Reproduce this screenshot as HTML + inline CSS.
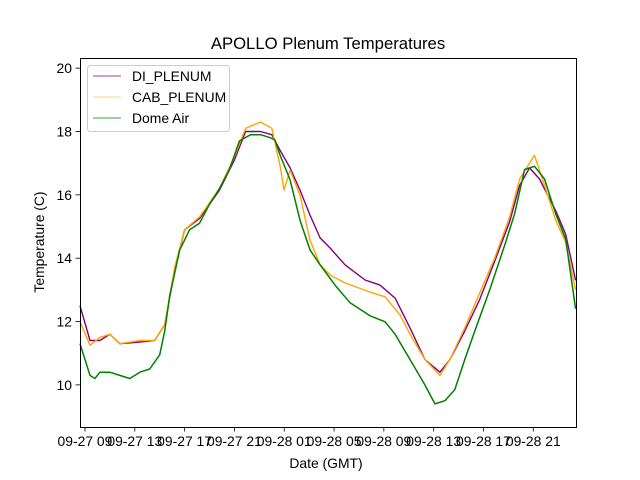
<!DOCTYPE html>
<html><head><meta charset="utf-8"><style>
body{margin:0;background:#fff;}
svg{display:block;font-family:"Liberation Sans","DejaVu Sans",sans-serif;}
</style></head><body>
<svg id="chart" width="640" height="480">
<rect x="0" y="0" width="640" height="480" fill="#fff"/>
<g id="plot"></g>
<rect x="80.5" y="58.5" width="496" height="369" fill="none" stroke="#000" stroke-width="1"/>
<text x="328" y="49" font-size="16.7" text-anchor="middle">APOLLO Plenum Temperatures</text>
<text x="326" y="468" font-size="13.9" text-anchor="middle">Date (GMT)</text>
<text transform="translate(44,242) rotate(-90)" font-size="13.9" text-anchor="middle">Temperature (C)</text>
<g id="xticks"></g><g id="yticks"></g>
<g>
<rect x="87.5" y="65.5" width="142" height="66" rx="3" fill="#fff" fill-opacity="0.8" stroke="#ccc"/>
<g><line x1="93" y1="76" x2="121" y2="76" stroke="#800080" stroke-width="0.7"/><text x="132" y="81" font-size="13.9">DI_PLENUM</text></g>
<g><line x1="93" y1="97" x2="121" y2="97" stroke="#ffa500" stroke-opacity="0.6" stroke-width="0.7"/><text x="132" y="102" font-size="13.9">CAB_PLENUM</text></g>
<g><line x1="93" y1="118" x2="121" y2="118" stroke="#008000" stroke-width="0.8"/><text x="132" y="123" font-size="13.9">Dome Air</text></g>
</g>
</svg>
<script>
// hours since 09-27 09:00
const xTickHours=[0,4,8,12,16,20,24,28,32,36];
const xTickLabels=["09-27 09","09-27 13","09-27 17","09-27 21","09-28 01","09-28 05","09-28 09","09-28 13","09-28 17","09-28 21"];
const yTicks=[10,12,14,16,18,20];
const domeHours=[-0.4,0.4,0.8,1.2,2.0,2.8,3.6,4.4,5.2,6.0,6.4,6.8,7.6,8.4,9.2,10.0,10.8,11.6,12.4,13.3,14.1,14.9,15.26,15.66,16.47,17.27,18.07,18.88,20.08,21.29,22.89,24.1,24.9,26.1,27.3,28.1,28.9,29.7,30.5,31.3,32.5,33.7,34.5,35.3,36.1,36.9,37.8,38.6,39.4];
const domeTemps=[11.3,10.3,10.2,10.4,10.4,10.3,10.2,10.4,10.5,10.95,11.7,12.8,14.25,14.9,15.1,15.7,16.2,16.8,17.7,17.9,17.9,17.8,17.73,17.26,16.47,15.2,14.26,13.79,13.15,12.59,12.18,11.99,11.6,10.8,10.0,9.4,9.5,9.85,10.8,11.7,13.0,14.4,15.4,16.8,16.9,16.5,15.4,14.6,12.4];
const diHours=[-0.4,0.4,1.2,2.0,2.8,4.4,5.6,6.4,7.2,8.0,9.2,10.8,12.0,12.9,14.1,15.0,15.66,16.47,17.27,18.07,18.88,19.68,20.88,22.49,23.69,24.9,26.1,27.3,28.5,29.3,30.5,31.7,32.9,34.1,34.9,35.7,36.5,37.8,38.6,39.4];
const diTemps=[12.5,11.4,11.4,11.6,11.3,11.35,11.4,11.9,13.6,14.9,15.25,16.15,17.1,18.0,18.0,17.9,17.41,16.85,16.15,15.36,14.64,14.32,13.79,13.31,13.15,12.74,11.8,10.8,10.4,10.8,11.7,12.7,13.9,15.15,16.3,16.85,16.5,15.5,14.75,13.3];
const cabHours=[-0.4,0.4,1.2,2.0,2.8,4.4,5.6,6.4,7.2,8.0,9.2,10.8,12.0,12.9,14.1,15.0,15.66,15.98,16.47,17.27,18.07,18.88,19.68,20.88,22.89,24.1,25.3,26.1,27.3,28.5,29.3,30.5,31.7,32.9,34.1,34.9,36.1,36.9,37.8,38.6,39.4];
const cabTemps=[12.0,11.25,11.5,11.6,11.3,11.4,11.4,11.9,13.7,14.9,15.3,16.2,17.2,18.1,18.3,18.1,16.94,16.15,16.78,15.99,14.57,13.79,13.47,13.22,12.93,12.78,12.21,11.6,10.8,10.3,10.8,11.8,12.9,14.0,15.3,16.5,17.25,16.3,15.2,14.5,13.0];

const svg=document.getElementById('chart');
const NS='http://www.w3.org/2000/svg';
const x0=80,x1=576,y0=427,y1=58;
const hMin=-0.4,hMax=39.43,tMin=8.67,tMax=20.32;
function sx(h){return x0+(h-hMin)/(hMax-hMin)*(x1-x0);}
function sy(t){return y0-(t-tMin)/(tMax-tMin)*(y0-y1);}
function mk(tag,attrs,parent){const e=document.createElementNS(NS,tag);for(const k in attrs)e.setAttribute(k,attrs[k]);parent.appendChild(e);return e;}

const plot=document.getElementById('plot');
function series(hs,ts,color,op,w,name){
  const d=hs.map((h,i)=>(i?'L':'M')+sx(h).toFixed(1)+','+sy(ts[i]).toFixed(1)).join('');
  const p=mk('path',{d:d,fill:'none',stroke:color,'stroke-opacity':op,'stroke-width':w,'stroke-linejoin':'round'},plot);
  
  
}
series(diHours,diTemps,'#800080',1,1.4,'di-plenum-line');
series(cabHours,cabTemps,'#ffa500',1,1.4,'cab-plenum-line');
series(domeHours,domeTemps,'#008000',1,1.5,'dome-air-line');

const xt=document.getElementById('xticks');
xTickHours.forEach((h,i)=>{
  const x=sx(h);
  const l=mk('line',{x1:x,y1:427,x2:x,y2:431.5,stroke:'#000','stroke-width':0.8},xt);
  
  
  const t=mk('text',{x:x,y:446,'font-size':13.9,'text-anchor':'middle'},xt);
  t.textContent=xTickLabels[i];
  
  
});
const yt=document.getElementById('yticks');
yTicks.forEach(v=>{
  const y=sy(v);
  const l=mk('line',{x1:75.5,y1:y,x2:80,y2:y,stroke:'#000','stroke-width':0.8},yt);
  
  
  const t=mk('text',{x:72,y:y+5,'font-size':13.9,'text-anchor':'end'},yt);
  t.textContent=v;
  
  
});
</script>
</body></html>
